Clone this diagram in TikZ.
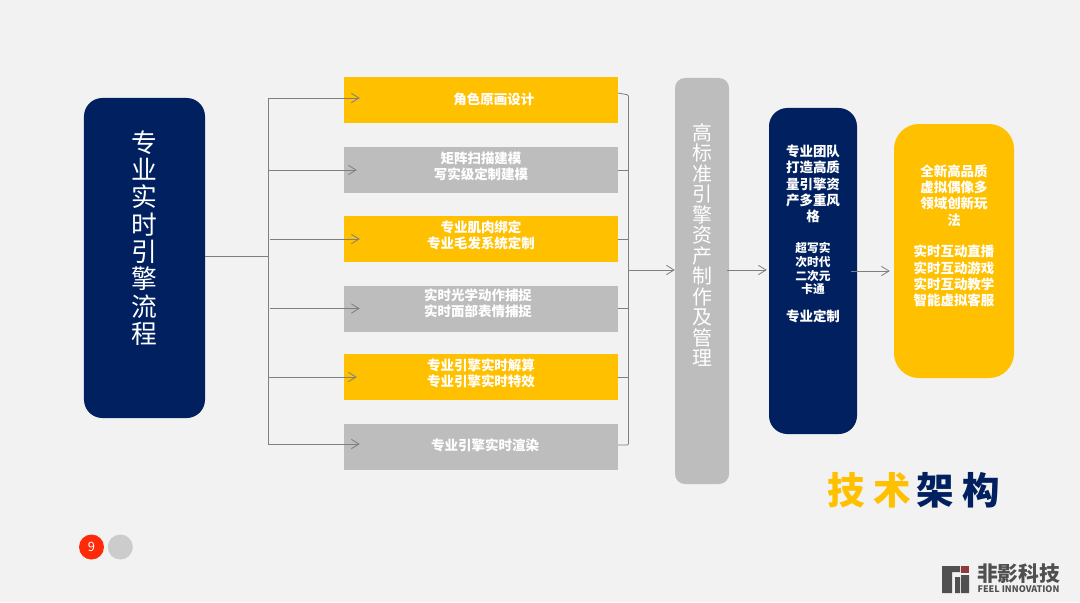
\documentclass[tikz,border=0pt]{standalone}
\usepackage{fontspec}
\setmainfont{Noto Sans CJK SC}
\usetikzlibrary{positioning, arrows.meta, calc}
\definecolor{navyblue}{HTML}{002060}
\definecolor{goldbar}{HTML}{FFC000}
\definecolor{greybar}{HTML}{BDBDBD}
\definecolor{pagebg}{HTML}{F2F2F2}
\definecolor{linegrey}{HTML}{7F7F7F}
\definecolor{pagered}{HTML}{FF2A0A}
\definecolor{logogrey}{HTML}{505050}
\definecolor{logored}{HTML}{8E3A3F}
\newcommand{\smallcard}{\fontsize{10}{12}\selectfont}

\begin{document}
\begin{tikzpicture}[
    x=0.03cm, y=-0.03cm,
    % Boxes
    goldrow/.style={fill=goldbar, rectangle, minimum width=8.22cm, minimum height=1.38cm, align=center, text=white, inner sep=0pt, text depth=7pt, font=\fontsize{11.5}{13.9}\selectfont\bfseries},
    greyrow/.style={goldrow, fill=greybar},
    navybox/.style={fill=navyblue, rounded corners=0.55cm, text=white, align=center, inner sep=0pt},
    greybox/.style={fill=greybar, rounded corners=0.3cm, text=white, align=center, inner sep=0pt},
    goldbox/.style={fill=goldbar, rounded corners=0.75cm, text=white, align=center, inner sep=0pt},
    bigtext/.style={font=\fontsize{22}{23.3}\selectfont},
    midtext/.style={font=\fontsize{17}{17.5}\selectfont},
    cardtext/.style={font=\fontsize{11.5}{13.9}\selectfont\bfseries},
    pagedot/.style={circle, minimum size=0.75cm, inner sep=0pt, text=white, font=\fontsize{11}{13}\selectfont},
    % Connectors
    flowline/.style={draw=linegrey, line width=0.7pt},
    flowarrow/.style={flowline, -{Straight Barb[length=6.5pt, width=8pt]}}
]
    \fill[pagebg] (0,0) rectangle (1080,602);
    \useasboundingbox (0,0) rectangle (1080,602);

    % ==================== Left column ====================
    \node (source) [navybox, bigtext, text depth=36pt, minimum width=3.63cm, minimum height=9.6cm] at (144.5,258) {专\\业\\实\\时\\引\\擎\\流\\程};

    % ==================== Rows ====================
    \node (row1) [goldrow, text depth=3pt] at (481,100) {\hspace*{22pt}角色原画设计};
    \node (row2) [greyrow] at (481,170) {矩阵扫描建模\\写实级定制建模};
    \node (row3) [goldrow] at (481,239) {专业肌肉绑定\\专业毛发系统定制};
    \node (row4) [greyrow, text depth=10pt] at (481,308.5) {实时光学动作捕捉\hspace*{5pt}\\实时面部表情捕捉\hspace*{5pt}};
    \node (row5) [goldrow] at (481,377) {专业引擎实时解算\\专业引擎实时特效};
    \node (row6) [greyrow, text depth=3pt] at (481,446.5) {\hspace*{7pt}专业引擎实时渲染};

    % ==================== Right columns ====================
    \node (assets) [greybox, midtext, text depth=62pt, minimum width=1.62cm, minimum height=12.18cm] at (702,281) {高\\标\\准\\引\\擎\\资\\产\\制\\作\\及\\管\\理};
    \node (team) [navybox, cardtext, text depth=64pt, minimum width=2.64cm, minimum height=9.78cm] at (813,271) {专业团队\\打造高质\\量引擎资\\产多重风\\格\\[12pt]\smallcard 超写实\\[-2pt]\smallcard 次时代\\[-2pt]\smallcard 二次元\\[-2pt]\smallcard 卡通\\[10pt]专业定制};
    \node (usage) [goldbox, cardtext, text depth=27pt, minimum width=3.6cm, minimum height=7.62cm] at (954,251) {全新高品质\\虚拟偶像多\\领域创新玩\\法\\[13pt]实时互动直播\\实时互动游戏\\实时互动教学\\智能虚拟客服};

    % Fan out from the source
    \coordinate (fan_in) at (268,256);
    \coordinate (fan_top) at (268,98);
    \coordinate (fan_bottom) at (268,444);
    \draw [flowline] (source.east |- fan_in) -- (fan_in);
    \draw [flowarrow] (fan_bottom) -- (fan_top) -- ([xshift=0.48cm]row1.west |- fan_top);
    \draw [flowarrow] (fan_top |- row2) -- ([xshift=0.39cm]row2.west);
    \draw [flowarrow] ([xshift=0.06cm]fan_top |- row3) -- ([xshift=0.48cm]row3.west);
    \draw [flowarrow] ([xshift=0.06cm]fan_top |- row4) -- ([xshift=0.48cm]row4.west);
    \draw [flowarrow] (fan_top |- row5) -- ([xshift=0.39cm]row5.west);
    \draw [flowarrow] (fan_bottom) -- ([xshift=0.48cm]row6.west |- fan_bottom);

    % Collect into the assets column
    \coordinate (merge_top) at (628.5,95);
    \coordinate (merge_bottom) at (628.5,445);
    \coordinate (merge_out) at (628.5,270);
    \coordinate (team_out) at (851,271);
    \draw [flowline, rounded corners=1pt] ([yshift=0.06cm]row1.east |- merge_top) -- (merge_top) -- (merge_bottom) -- (row6.east |- merge_bottom);
    \draw [flowline] (row2.east) -- (merge_top |- row2);
    \draw [flowline] (row3.east) -- (merge_top |- row3);
    \draw [flowline] (row4.east) -- (merge_top |- row4);
    \draw [flowline] (row5.east) -- (merge_top |- row5);
    \draw [flowarrow] (merge_out) -- (assets.west |- merge_out);
    \draw [flowarrow] ([xshift=-0.06cm]assets.east |- merge_out) -- ([xshift=-0.06cm]team.west |- merge_out);
    \draw [flowarrow] (team_out) -- ([xshift=-0.12cm]usage.west |- team_out);

    % Title
    \node (heading) [inner sep=0pt, font=\fontsize{32}{34}\selectfont\bfseries] at (913.5,490) {\textcolor{goldbar}{技}\hspace{7pt}\textcolor{goldbar}{术}\hspace{5pt}\textcolor{navyblue}{架}\hspace{7pt}\textcolor{navyblue}{构}};

    % Page marks
    \node (page_no) [pagedot, fill=pagered] at (91.5,547) {9};
    \node (page_next) [pagedot, fill=black!20, right=0.1cm of page_no] {};

    % Logo
    \fill[logogrey] (942,566) rectangle (960,572) (942,566) rectangle (952,593) (955,577) rectangle (960,593) (961,575) rectangle (969,593);
    \fill[logored] (961,566) rectangle (969,573);
    \node (logo_cn) [inner sep=0pt, text=logogrey, font=\fontsize{17.7}{18}\selectfont\bfseries] at (1018.5,574) {非影科技};
    \node (logo_en) [inner sep=0pt, text=logogrey, font=\fontsize{7.7}{9}\selectfont\bfseries] at (1018.5,589.5) {FEEL INNOVATION};
\end{tikzpicture}
\end{document}
